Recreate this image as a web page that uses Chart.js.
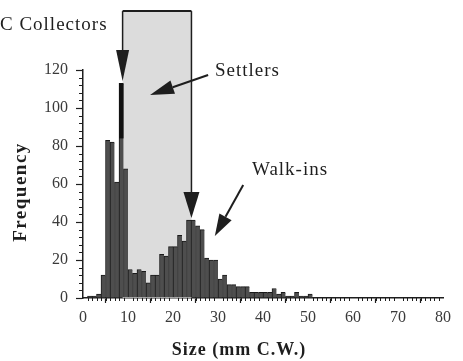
<!DOCTYPE html>
<html><head><meta charset="utf-8">
<script src="https://cdn.jsdelivr.net/npm/chart.js@4.4.1/dist/chart.umd.min.js"></script>
<style>html,body{margin:0;padding:0;background:#fff;}</style>
</head><body>
<canvas id="c" width="463" height="361"></canvas>
<script>
// ---- data (1 mm size classes, value = bin start in mm C.W.) ----
const binStartMm = [0,1,2,3,4,5,6,7,8,9,10,11,12,13,14,15,16,17,18,19,20,21,22,23,24,25,26,27,28,29,30,31,32,33,34,35,36,37,38,39,40,41,42,43,44,45,46,47,48,49,50,51,52,53,54,55,56,57,58,59,60,61,62,63,64,65,66,67,68,69,70,71,72,73,74,75,76,77,78,79];
const frequency = [0,1,1,2,12,83,82,61,113,68,15,13,15,14,8,12,12,23,22,27,27,33,30,41,41,38,36,21,20,20,10,12,7,7,6,6,6,3,3,3,3,3,5,2,3,1,1,3,1,1,2,0,0,0,0,0,0,0,0,0,0,0,0,0,0,0,0,0,0,0,0,0,0,0,0,0,0,0,0,0];
const xTickLabels = ['0','10','20','30','40','50','60','70','80'];
const yTickLabels = ['0','20','40','60','80','100','120'];
const xTitle = 'Size (mm C.W.)';
const yTitle = 'Frequency';
const noteCollectors = 'C Collectors';
const noteSettlers = 'Settlers';
const noteWalkins = 'Walk-ins';

const SERIF = '"Liberation Serif", "Times New Roman", serif';
const INK = '#1e1e1e';

function arrow(ctx, x1, y1, x2, y2, headLen, headHalf, lw) {
  const ang = Math.atan2(y2 - y1, x2 - x1);
  const bx = x2 - headLen * Math.cos(ang), by = y2 - headLen * Math.sin(ang);
  ctx.lineWidth = lw;
  ctx.beginPath(); ctx.moveTo(x1, y1); ctx.lineTo(bx, by); ctx.stroke();
  const px = -Math.sin(ang) * headHalf, py = Math.cos(ang) * headHalf;
  ctx.beginPath();
  ctx.moveTo(x2, y2);
  ctx.lineTo(bx + px, by + py);
  ctx.lineTo(bx - px, by - py);
  ctx.closePath(); ctx.fill();
}

const annot = {
  id: 'annot',
  beforeDatasetsDraw(chart) {
    const {ctx, scales: {x, y}} = chart;
    ctx.save();
    ctx.fillStyle = '#dcdcdc';
    const l = x.getPixelForValue(8.8), r = x.getPixelForValue(24.1);
    const t = y.getPixelForValue(151), b = y.getPixelForValue(0);
    ctx.fillRect(l, t, r - l, b - t);
    ctx.restore();
  },
  afterDatasetsDraw(chart) {
    const {ctx, scales: {x, y}, chartArea} = chart;
    const X = v => x.getPixelForValue(v), Y = v => y.getPixelForValue(v);
    ctx.save();
    // dark upper part of the 8 mm bar (collector arrow shaft)
    const bar8 = chart.getDatasetMeta(0).data[8];
    ctx.fillStyle = '#111';
    ctx.fillRect(bar8.x - bar8.width / 2, Y(113), bar8.width, Y(84) - Y(113));

    ctx.strokeStyle = INK; ctx.fillStyle = INK;
    // minor ticks
    ctx.lineWidth = 1;
    ctx.beginPath();
    for (let v = 0; v <= 120; v += 4) {
      if (v % 20 === 0) continue;
      ctx.moveTo(chartArea.left - 4, Math.round(Y(v)) + 0.5);
      ctx.lineTo(chartArea.left, Math.round(Y(v)) + 0.5);
    }
    for (let m = 0; m <= 80; m += 1) {
      if (m % 10 === 0) continue;
      ctx.moveTo(Math.round(X(m)) + 0.5, chartArea.bottom);
      ctx.lineTo(Math.round(X(m)) + 0.5, chartArea.bottom + 3);
    }
    ctx.stroke();

    // bracket
    ctx.lineWidth = 2;
    ctx.beginPath();
    ctx.moveTo(X(8.8), Y(151)); ctx.lineTo(X(24.1), Y(151));
    ctx.stroke();
    arrow(ctx, X(8.8), Y(151), X(8.8), Y(114.2), 31, 6.5, 1.5);
    arrow(ctx, X(24.1), Y(151), X(24.1), Y(42.1), 26, 8, 1.5);
    // settlers / walk-ins arrows
    arrow(ctx, X(27.8), Y(117.4), X(14.9), Y(106.8), 24, 7, 2);
    arrow(ctx, X(35.6), Y(59.5), X(29.3), Y(32.6), 22, 7, 2);

    // notes
    ctx.letterSpacing = '1px';
    ctx.font = '19px ' + SERIF;
    ctx.textBaseline = 'middle';
    ctx.textAlign = 'left';
    ctx.fillText(noteCollectors, 0, 25);
    ctx.fillText(noteSettlers, 215, 71);
    ctx.fillText(noteWalkins, 252, 170);

    // axis titles
    ctx.font = 'bold 18px ' + SERIF;
    ctx.textAlign = 'center';
    ctx.fillText(xTitle, 239, 350);
    ctx.font = 'bold 19px ' + SERIF;
    ctx.letterSpacing = '1.5px';
    ctx.translate(21, 192);
    ctx.rotate(-Math.PI / 2);
    ctx.fillText(yTitle, 0, 0);
    ctx.restore();
  }
};

new Chart(document.getElementById('c'), {
  type: 'bar',
  data: {
    datasets: [{
      data: binStartMm.map((b, i) => ({x: b + 0.5, y: frequency[i]})),
      backgroundColor: '#4e4e4e',
      borderColor: '#1a1a1a',
      borderWidth: {left: 1, top: 1, right: 0, bottom: 0},
      borderSkipped: false,
      categoryPercentage: 1,
      barPercentage: 1
    }]
  },
  options: {
    responsive: false,
    animation: false,
    layout: {padding: {left: 0, right: 20, top: 70, bottom: 0}},
    plugins: {legend: {display: false}, tooltip: {enabled: false}},
    scales: {
      x: {
        type: 'linear', min: 0, max: 80, offset: false,
        afterFit(s) { s.height = 63; },
        ticks: {
          stepSize: 10, autoSkip: false, maxRotation: 0, padding: 5,
          color: '#3a3a3a', font: {family: SERIF, size: 16},
          callback: (v) => xTickLabels[xTickLabels.indexOf(String(v))] ?? ''
        },
        grid: {drawOnChartArea: false, drawTicks: true, tickLength: 5, color: INK, tickWidth: 1.2},
        border: {display: true, color: INK, width: 1.5}
      },
      y: {
        min: 0, max: 120,
        afterFit(s) { s.width = 83; },
        ticks: {
          stepSize: 20, autoSkip: false, padding: 8,
          color: '#3a3a3a', font: {family: SERIF, size: 16},
          callback: (v) => yTickLabels[yTickLabels.indexOf(String(v))] ?? ''
        },
        grid: {drawOnChartArea: false, drawTicks: true, tickLength: 7, color: INK, tickWidth: 1.2},
        border: {display: true, color: INK, width: 1.5}
      }
    }
  },
  plugins: [annot]
});
</script>
</body></html>
